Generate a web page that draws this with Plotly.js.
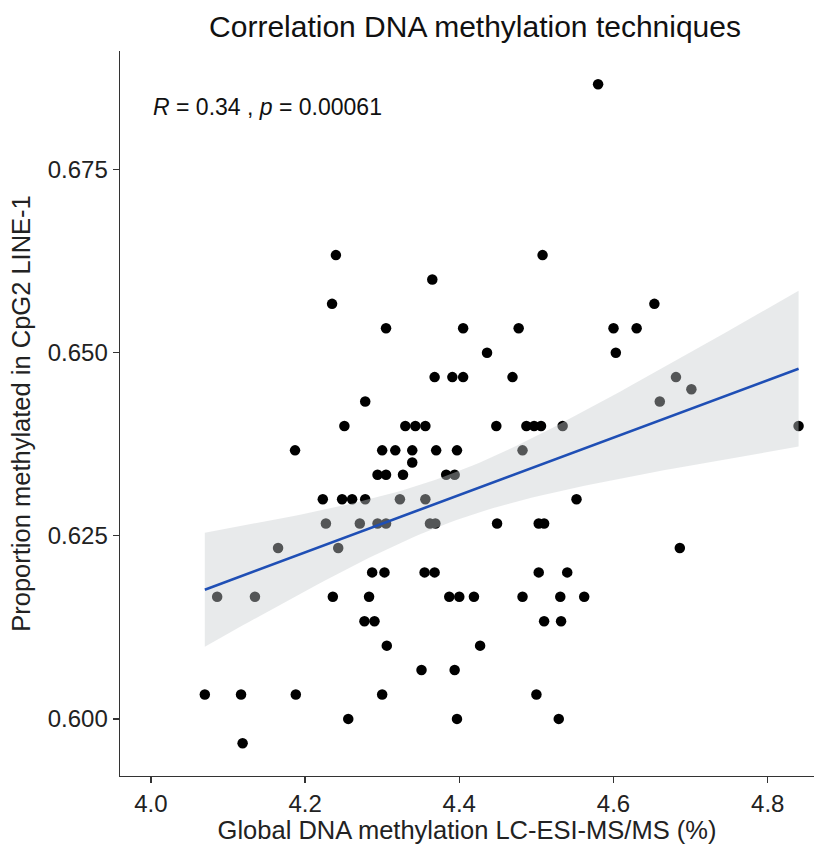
<!DOCTYPE html>
<html>
<head>
<meta charset="utf-8">
<script src="https://cdn.plot.ly/plotly-3.0.1.min.js"></script>
<style>
  html, body { margin: 0; padding: 0; background: #fff; }
  #chart { width: 821px; height: 844px; }
</style>
</head>
<body>
<div id="chart"></div>
<script>
// Global DNA methylation (LC-ESI-MS/MS, %) per sample
const globalMethylation = [
  4.580,
  4.240, 4.508,
  4.365,
  4.235, 4.653,
  4.305, 4.405, 4.477, 4.600, 4.630,
  4.436, 4.603,
  4.368, 4.391, 4.405, 4.469, 4.681,
  4.701,
  4.278, 4.660,
  4.251, 4.330, 4.343, 4.356, 4.448, 4.487, 4.497, 4.506, 4.534, 4.840,
  4.187, 4.300, 4.317, 4.339, 4.370, 4.397, 4.482,
  4.339,
  4.294, 4.305, 4.327, 4.383, 4.394,
  4.223, 4.248, 4.261, 4.278, 4.323, 4.356, 4.552,
  4.227, 4.271, 4.294, 4.305, 4.362, 4.369, 4.449, 4.503, 4.510,
  4.165, 4.243, 4.686,
  4.287, 4.303, 4.355, 4.368, 4.503, 4.540,
  4.086, 4.135, 4.236, 4.283, 4.387, 4.400, 4.419, 4.482, 4.531, 4.562,
  4.277, 4.290, 4.510, 4.532,
  4.306, 4.427,
  4.351, 4.394,
  4.070, 4.117, 4.188, 4.300, 4.500,
  4.256, 4.397, 4.529,
  4.119
];

// Proportion methylated in CpG2 of LINE-1, same sample order
const line1CpG2 = [
  0.68667,
  0.66333, 0.66333,
  0.66000,
  0.65667, 0.65667,
  0.65333, 0.65333, 0.65333, 0.65333, 0.65333,
  0.65000, 0.65000,
  0.64667, 0.64667, 0.64667, 0.64667, 0.64667,
  0.64500,
  0.64333, 0.64333,
  0.64000, 0.64000, 0.64000, 0.64000, 0.64000, 0.64000, 0.64000, 0.64000, 0.64000, 0.64000,
  0.63667, 0.63667, 0.63667, 0.63667, 0.63667, 0.63667, 0.63667,
  0.63500,
  0.63333, 0.63333, 0.63333, 0.63333, 0.63333,
  0.63000, 0.63000, 0.63000, 0.63000, 0.63000, 0.63000, 0.63000,
  0.62667, 0.62667, 0.62667, 0.62667, 0.62667, 0.62667, 0.62667, 0.62667, 0.62667,
  0.62333, 0.62333, 0.62333,
  0.62000, 0.62000, 0.62000, 0.62000, 0.62000, 0.62000,
  0.61667, 0.61667, 0.61667, 0.61667, 0.61667, 0.61667, 0.61667, 0.61667, 0.61667, 0.61667,
  0.61333, 0.61333, 0.61333, 0.61333,
  0.61000, 0.61000,
  0.60667, 0.60667,
  0.60333, 0.60333, 0.60333, 0.60333, 0.60333,
  0.60000, 0.60000, 0.60000,
  0.59667
];

const xTickVals = [4.0, 4.2, 4.4, 4.6, 4.8];
const yTickVals = [0.600, 0.625, 0.650, 0.675];
const corLabel = "<i>R</i> = 0.34 , <i>p</i> = 0.00061";

// Ordinary least squares fit with a 95% confidence band for the mean
function linearFit(xs, ys) {
  const n = xs.length;
  const mx = xs.reduce((a, b) => a + b, 0) / n;
  const my = ys.reduce((a, b) => a + b, 0) / n;
  let sxx = 0, sxy = 0;
  for (let i = 0; i < n; i++) {
    sxx += (xs[i] - mx) ** 2;
    sxy += (xs[i] - mx) * (ys[i] - my);
  }
  const slope = sxy / sxx;
  const intercept = my - slope * mx;
  let sse = 0;
  for (let i = 0; i < n; i++) {
    const r = ys[i] - (intercept + slope * xs[i]);
    sse += r * r;
  }
  const s = Math.sqrt(sse / (n - 2));
  const tCrit = 1.985; // t(0.975, df = 95)
  const x0 = Math.min(...xs), x1 = Math.max(...xs);
  const steps = 80;
  const gx = [], fit = [], lo = [], hi = [];
  for (let k = 0; k <= steps; k++) {
    const x = x0 + (x1 - x0) * k / steps;
    const yhat = intercept + slope * x;
    const se = s * Math.sqrt(1 / n + (x - mx) ** 2 / sxx);
    gx.push(x); fit.push(yhat);
    lo.push(yhat - tCrit * se); hi.push(yhat + tCrit * se);
  }
  return { gx, fit, lo, hi };
}

const fitRes = linearFit(globalMethylation, line1CpG2);

const FONT = "Liberation Sans, Arial, sans-serif";

const points = {
  type: "scatter", mode: "markers",
  x: globalMethylation, y: line1CpG2,
  marker: { color: "#000000", size: 10.5, line: { width: 0 } },
  hoverinfo: "x+y", showlegend: false
};

const band = {
  type: "scatter", mode: "lines",
  x: fitRes.gx.concat(fitRes.gx.slice().reverse()),
  y: fitRes.hi.concat(fitRes.lo.slice().reverse()),
  fill: "toself",
  fillcolor: "rgba(200,204,208,0.42)",
  line: { width: 0 },
  hoverinfo: "skip", showlegend: false
};

const fitLine = {
  type: "scatter", mode: "lines",
  x: fitRes.gx, y: fitRes.fit,
  line: { color: "#1f4fb5", width: 2.6 },
  hoverinfo: "skip", showlegend: false
};

const axisCommon = {
  showgrid: false, zeroline: false,
  showline: true, linecolor: "#333333", linewidth: 1.4,
  ticks: "outside", ticklen: 6, tickwidth: 1.4, tickcolor: "#333333",
  tickfont: { family: FONT, size: 24, color: "#222222" }
};

const layout = {
  width: 821, height: 844,
  paper_bgcolor: "#ffffff", plot_bgcolor: "#ffffff",
  margin: { l: 120, r: 7, t: 51, b: 68 },
  title: {
    text: "Correlation DNA methylation techniques",
    font: { family: FONT, size: 30, color: "#111111" },
    x: 0.5786, xanchor: "center", xref: "container",
    y: 1 - 26 / 844, yanchor: "middle", yref: "container"
  },
  xaxis: Object.assign({}, axisCommon, {
    range: [3.96, 4.86],
    tickvals: xTickVals, tickformat: ".1f",
    title: {
      text: "Global DNA methylation LC-ESI-MS/MS (%)",
      font: { family: FONT, size: 25.5, color: "#222222" },
      standoff: 6
    }
  }),
  yaxis: Object.assign({}, axisCommon, {
    range: [0.5922, 0.6912],
    tickvals: yTickVals, tickformat: ".3f",
    title: {
      text: "Proportion methylated in CpG2 LINE-1",
      font: { family: FONT, size: 25.5, color: "#222222" },
      standoff: 10
    }
  }),
  annotations: [{
    text: corLabel,
    x: 4.0, y: 0.6836, xref: "x", yref: "y",
    xanchor: "left", yanchor: "middle", showarrow: false,
    font: { family: FONT, size: 23, color: "#111111" }
  }]
};

Plotly.newPlot("chart", [points, band, fitLine], layout, { displayModeBar: false, staticPlot: true });
</script>
</body>
</html>
